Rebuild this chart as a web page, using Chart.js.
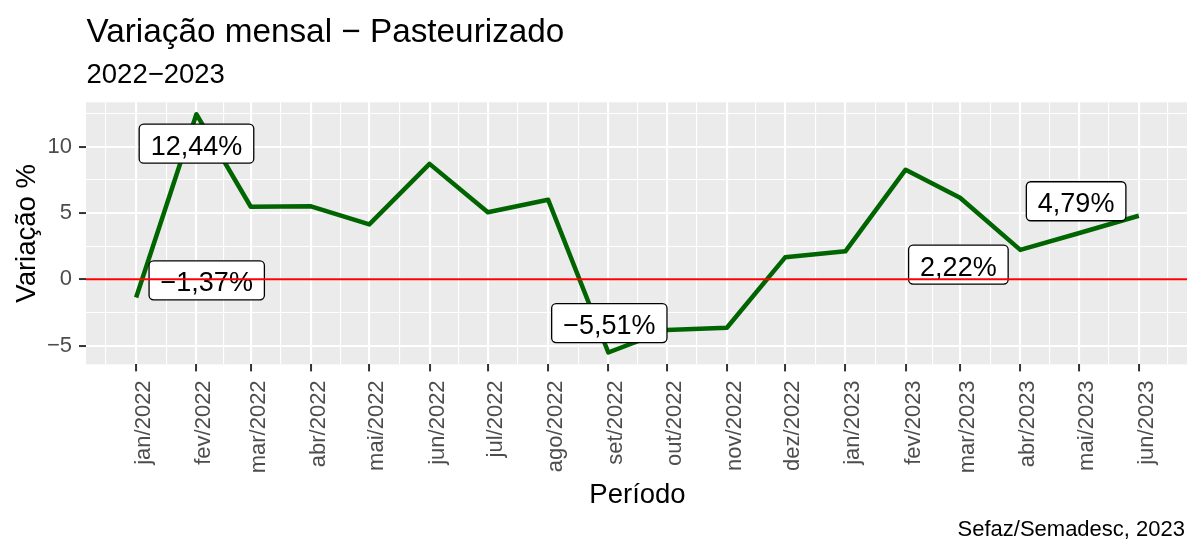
<!DOCTYPE html>
<html><head><meta charset="utf-8">
<script src="https://cdn.jsdelivr.net/npm/chart.js@4"></script>
<style>html,body{margin:0;padding:0;background:#fff;overflow:hidden}</style>
</head><body>
<canvas id="c" width="1187" height="542"></canvas>
<script>
// ---- data ----
const months = ['2022-01-01','2022-02-01','2022-03-01','2022-04-01','2022-05-01','2022-06-01','2022-07-01','2022-08-01','2022-09-01','2022-10-01','2022-11-01','2022-12-01','2023-01-01','2023-02-01','2023-03-01','2023-04-01','2023-05-01','2023-06-01'];
const tickLabels = ['jan/2022','fev/2022','mar/2022','abr/2022','mai/2022','jun/2022','jul/2022','ago/2022','set/2022','out/2022','nov/2022','dez/2022','jan/2023','fev/2023','mar/2023','abr/2023','mai/2023','jun/2023'];
const values = [-1.37, 12.44, 5.47, 5.50, 4.14, 8.70, 5.05, 6.00, -5.51, -3.82, -3.65, 1.66, 2.11, 8.26, 6.15, 2.22, 3.47, 4.79];
const outerMonths = ['2021-12-01','2023-07-01'];
const yMajorTicks = [-5, 0, 5, 10];
const yTickLabels = ['\u22125', '0', '5', '10'];
const yMinorTicks = [-2.5, 2.5, 7.5, 12.5];
const labeledMonths = ['2022-01-01','2022-02-01','2022-09-01','2023-04-01','2023-06-01'];
const referenceLine = 0;
const titleText = 'Varia\u00e7\u00e3o mensal \u2212 Pasteurizado';
const subtitleText = '2022\u22122023';
const xTitle = 'Per\u00edodo';
const yTitle = 'Varia\u00e7\u00e3o %';
const captionText = 'Sefaz/Semadesc, 2023';

// ---- helpers ----
const DAY = 86400000;
const t0 = Date.parse(months[0]);
const dayOf = m => (Date.parse(m) - t0) / DAY;
const xMajor = months.map(dayOf);
const allMonthDays = [dayOf(outerMonths[0]), ...xMajor, dayOf(outerMonths[1])];
const xMinor = [];
for (let i = 0; i < allMonthDays.length - 1; i++) xMinor.push((allMonthDays[i] + allMonthDays[i+1]) / 2);
const xLabelMap = {};
xMajor.forEach((d, i) => xLabelMap[d] = tickLabels[i]);
const yLabelMap = {};
yMajorTicks.forEach((v, i) => yLabelMap[v] = yTickLabels[i]);
const fmt = v => (v < 0 ? '\u2212' : '') + Math.abs(v).toFixed(2).replace('.', ',') + '%';

const FONT = "'Liberation Sans', Arial, sans-serif";
const labelOffsets = {
  '2022-01-01': [70.6, -17.2],
  '2022-02-01': [0.1, 29.5],
  '2022-09-01': [1.0, -29.4],
  '2023-04-01': [-61.9, 14.7],
  '2023-06-01': [-62.7, -14.5]
};

const decor = {
  id: 'decor',
  beforeDraw(chart) {
    const {ctx, chartArea: a} = chart;
    ctx.save();
    ctx.fillStyle = '#ffffff';
    ctx.fillRect(0, 0, chart.width, chart.height);
    ctx.fillStyle = '#EBEBEB';
    ctx.fillRect(a.left, a.top, a.right - a.left, a.bottom - a.top);
    ctx.restore();
  },
  afterDatasetsDraw(chart) {
    const {ctx, chartArea: a} = chart;
    const xs = chart.scales.x, ys = chart.scales.y;
    ctx.save();
    ctx.font = '27px ' + FONT;
    labeledMonths.forEach(m => {
      const i = months.indexOf(m);
      const px = xs.getPixelForValue(dayOf(m));
      const py = ys.getPixelForValue(values[i]);
      const off = labelOffsets[m];
      const cx = px + off[0], cy = py + off[1];
      const txt = fmt(values[i]);
      const w = ctx.measureText(txt).width + 23;
      const h = 39;
      const x0 = cx - w / 2, y0 = cy - h / 2, r = 4.5;
      ctx.beginPath();
      ctx.moveTo(x0 + r, y0);
      ctx.lineTo(x0 + w - r, y0);
      ctx.arcTo(x0 + w, y0, x0 + w, y0 + r, r);
      ctx.lineTo(x0 + w, y0 + h - r);
      ctx.arcTo(x0 + w, y0 + h, x0 + w - r, y0 + h, r);
      ctx.lineTo(x0 + r, y0 + h);
      ctx.arcTo(x0, y0 + h, x0, y0 + h - r, r);
      ctx.lineTo(x0, y0 + r);
      ctx.arcTo(x0, y0, x0 + r, y0, r);
      ctx.closePath();
      ctx.fillStyle = '#ffffff';
      ctx.fill();
      ctx.lineWidth = 1.3;
      ctx.strokeStyle = '#000000';
      ctx.stroke();
      ctx.fillStyle = '#000000';
      ctx.textAlign = 'center';
      ctx.textBaseline = 'alphabetic';
      ctx.fillText(txt, cx, cy + 11);
    });
    // reference line
    const yz = ys.getPixelForValue(referenceLine);
    ctx.beginPath();
    ctx.moveTo(a.left, yz);
    ctx.lineTo(a.right, yz);
    ctx.lineWidth = 2;
    ctx.strokeStyle = '#FF0000';
    ctx.stroke();
    ctx.restore();
  },
  afterDraw(chart) {
    const {ctx, chartArea: a} = chart;
    ctx.save();
    ctx.fillStyle = '#000000';
    ctx.textBaseline = 'alphabetic';
    ctx.textAlign = 'left';
    ctx.font = '33.3px ' + FONT;
    ctx.fillText(titleText, 86.5, 42);
    ctx.font = '27.5px ' + FONT;
    ctx.fillText(subtitleText, 86.5, 83);
    ctx.textAlign = 'center';
    ctx.fillText(xTitle, (86 + 1189) / 2, 503);
    ctx.save();
    ctx.translate(35, (a.top + a.bottom) / 2);
    ctx.rotate(-Math.PI / 2);
    ctx.fillText(yTitle, 0, 0);
    ctx.restore();
    ctx.textAlign = 'right';
    ctx.font = '22px ' + FONT;
    ctx.fillText(captionText, 1185, 536);
    ctx.restore();
  }
};

const isMinor = c => c.tick && c.tick.isMinor;

new Chart(document.getElementById('c'), {
  type: 'line',
  data: {
    datasets: [{
      data: months.map((m, i) => ({x: dayOf(m), y: values[i]})),
      borderColor: '#006400',
      borderWidth: 4.5,
      pointRadius: 0,
      pointHoverRadius: 0,
      fill: false,
      tension: 0,
      borderJoinStyle: 'round',
      borderCapStyle: 'butt',
      clip: false
    }]
  },
  options: {
    responsive: false,
    devicePixelRatio: 1,
    animation: false,
    events: [],
    layout: {padding: {top: 102.3, left: 0, right: 0, bottom: 0}},
    plugins: {legend: {display: false}, tooltip: {enabled: false}, title: {display: false}},
    scales: {
      x: {
        type: 'linear',
        bounds: 'data',
        min: -25.8,
        max: 540.8,
        afterFit: s => { s.height = 542 - 364.4; s.paddingLeft = 0; s.paddingRight = 0; },
        afterBuildTicks: s => {
          s.ticks = [...xMajor.map(v => ({value: v})), ...xMinor.map(v => ({value: v, isMinor: true}))]
            .filter(t => t.value >= s.min && t.value <= s.max)
            .sort((p, q) => p.value - q.value);
        },
        ticks: {
          autoSkip: false,
          minRotation: 90,
          maxRotation: 90,
          padding: 9,
          labelOffset: 8,
          color: '#4D4D4D',
          font: {family: FONT, size: 22},
          callback: v => xLabelMap[v] !== undefined ? xLabelMap[v] : ''
        },
        grid: {
          color: '#FFFFFF',
          lineWidth: c => isMinor(c) ? 1.1 : 2.1,
          drawTicks: true,
          tickLength: 7,
          tickWidth: 2,
          tickColor: c => isMinor(c) ? 'rgba(0,0,0,0)' : '#333333'
        },
        border: {display: false}
      },
      y: {
        type: 'linear',
        bounds: 'data',
        min: -6.4075,
        max: 13.3375,
        afterFit: s => { s.width = 86; s.paddingTop = 0; s.paddingBottom = 0; },
        afterBuildTicks: s => {
          s.ticks = [...yMajorTicks.map(v => ({value: v})), ...yMinorTicks.map(v => ({value: v, isMinor: true}))]
            .filter(t => t.value >= s.min && t.value <= s.max)
            .sort((p, q) => p.value - q.value);
        },
        ticks: {
          autoSkip: false,
          padding: 7,
          color: '#4D4D4D',
          font: {family: FONT, size: 22},
          callback: v => yLabelMap[v] !== undefined ? yLabelMap[v] : ''
        },
        grid: {
          color: '#FFFFFF',
          lineWidth: c => isMinor(c) ? 1.1 : 2.1,
          drawTicks: true,
          tickLength: 7,
          tickWidth: 2,
          tickColor: c => isMinor(c) ? 'rgba(0,0,0,0)' : '#333333'
        },
        border: {display: false}
      }
    }
  },
  plugins: [decor]
});
</script>
</body></html>
